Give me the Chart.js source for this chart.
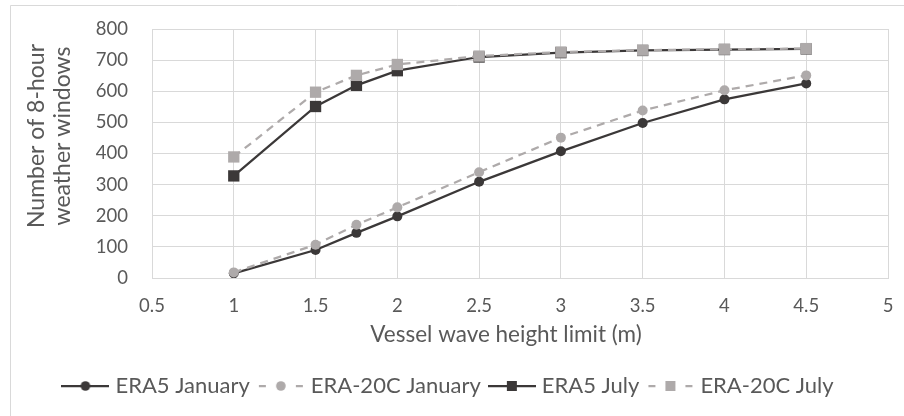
<!DOCTYPE html>
<html>
<head>
<meta charset="utf-8">
<script src="https://cdn.jsdelivr.net/npm/chart.js@4/dist/chart.umd.min.js"></script>
<style>
  html, body { margin: 0; padding: 0; background: #ffffff; }
  #wrap { width: 904px; height: 416px; position: relative; }
</style>
</head>
<body>
<div id="wrap"><canvas id="chart" width="904" height="416"></canvas></div>
<script>
// Vessel wave height limits (m)
const waveLimits = [1, 1.5, 1.75, 2, 2.5, 3, 3.5, 4, 4.5];

// Number of 8-hour weather windows per reanalysis and month
const era5January   = [15, 90, 145, 198, 309, 407, 498, 574, 625];
const era20cJanuary = [18, 107, 171, 227, 340, 451, 538, 603, 651];
const era5July      = [328, 551, 619, 666, 710, 724, 731, 734, 736];
const era20cJuly    = [389, 597, 651, 686, 713, 726, 732, 735, 737];

const seriesNames = ['ERA5 January', 'ERA-20C January', 'ERA5 July', 'ERA-20C July'];

// Axis ranges and tick steps
const xRange = [0.5, 5];
const xStep = 0.5;
const yRange = [0, 800];
const yStep = 100;

const xTitle = 'Vessel wave height limit (m)';
const yTitle = ['Number of 8-hour', 'weather windows'];

const DARK = '#3b3838';
const GREY = '#aeaaaa';
const TEXT = '#595959';
const GRID = '#d9d9d9';
const FONT = 'Lato, "Open Sans", sans-serif';

function toPoints(values) {
  return waveLimits.map((x, i) => ({ x: x, y: values[i] }));
}

// Small line-plus-marker swatch used as the legend symbol
function legendSymbol(color, dashed, marker) {
  const c = document.createElement('canvas');
  c.width = 48; c.height = 14;
  const g = c.getContext('2d');
  g.strokeStyle = color;
  g.fillStyle = color;
  g.lineWidth = 2.25;
  const cy = 7;
  g.beginPath();
  if (dashed) {
    g.moveTo(2, cy); g.lineTo(9, cy);
    g.moveTo(39, cy); g.lineTo(46, cy);
  } else {
    g.moveTo(0, cy); g.lineTo(48, cy);
  }
  g.stroke();
  g.beginPath();
  if (marker === 'circle') {
    g.arc(24, cy, 4.8, 0, Math.PI * 2);
    g.fill();
  } else {
    g.fillRect(19, cy - 5, 10, 10);
  }
  return c;
}

function series(label, values, color, dashed, marker, order) {
  return {
    label: label,
    data: toPoints(values),
    borderColor: color,
    backgroundColor: color,
    borderWidth: 2.25,
    borderDash: dashed ? [8, 6] : [],
    pointStyle: marker === 'circle' ? 'circle' : 'rect',
    pointRadius: marker === 'circle' ? 5 : 8,
    pointBackgroundColor: color,
    pointBorderWidth: 0,
    pointHoverRadius: marker === 'circle' ? 5 : 8,
    tension: 0,
    fill: false,
    order: order,
    legendSymbol: legendSymbol(color, dashed, marker)
  };
}

// White background and light frame along the left and top edges
const framePlugin = {
  id: 'frame',
  beforeDraw(chart) {
    const ctx = chart.ctx;
    ctx.save();
    ctx.fillStyle = '#ffffff';
    ctx.fillRect(0, 0, chart.width, chart.height);
    ctx.strokeStyle = GRID;
    ctx.lineWidth = 1;
    ctx.beginPath();
    ctx.moveTo(10.5, chart.height + 2);
    ctx.lineTo(10.5, 5.5);
    ctx.lineTo(chart.width + 2, 5.5);
    ctx.stroke();
    ctx.restore();
  }
};

// Axis titles: two-line rotated value-axis title and the category-axis title
const axisTitlePlugin = {
  id: 'axisTitles',
  afterDraw(chart) {
    const ctx = chart.ctx;
    ctx.save();
    ctx.fillStyle = TEXT;
    ctx.textAlign = 'center';
    ctx.textBaseline = 'alphabetic';

    ctx.font = '22.5px ' + FONT;
    ctx.fillText(xTitle, 506, 342);

    ctx.font = '23px ' + FONT;
    ctx.translate(44, 136);
    ctx.rotate(-Math.PI / 2);
    ctx.fillText(yTitle[0], 0, 0);
    ctx.fillText(yTitle[1], 0, 26);
    ctx.restore();
  }
};

new Chart(document.getElementById('chart'), {
  type: 'line',
  data: {
    datasets: [
      series(seriesNames[0], era5January, DARK, false, 'circle', 1),
      series(seriesNames[1], era20cJanuary, GREY, true, 'circle', 0),
      series(seriesNames[2], era5July, DARK, false, 'rect', 1),
      series(seriesNames[3], era20cJuly, GREY, true, 'rect', 0)
    ]
  },
  options: {
    responsive: false,
    animation: false,
    devicePixelRatio: 1,
    layout: { padding: { left: 12, right: 16, top: 29, bottom: 9 } },
    plugins: {
      tooltip: { enabled: false },
      legend: {
        position: 'bottom',
        labels: {
          usePointStyle: true,
          pointStyleWidth: 38,
          boxHeight: 14,
          padding: 12,
          color: TEXT,
          font: { family: FONT, size: 22 },
          generateLabels(chart) {
            return chart.data.datasets.map((ds, i) => ({
              text: ds.label,
              pointStyle: ds.legendSymbol,
              fillStyle: ds.borderColor,
              strokeStyle: ds.borderColor,
              lineWidth: 0,
              fontColor: TEXT,
              hidden: false,
              datasetIndex: i
            }));
          }
        }
      }
    },
    scales: {
      x: {
        type: 'linear',
        min: xRange[0],
        max: xRange[1],
        ticks: {
          stepSize: xStep,
          color: TEXT,
          padding: 17,
          font: { family: FONT, size: 18.5 },
          callback: (value) => String(value)
        },
        grid: { color: GRID, lineWidth: 1, drawTicks: false },
        border: { color: GRID, width: 1 },
        title: { display: false },
        afterFit(scale) {
          scale.height = 85;
          scale.paddingLeft = 0;
          scale.paddingRight = 0;
        }
      },
      y: {
        min: yRange[0],
        max: yRange[1],
        ticks: {
          stepSize: yStep,
          color: TEXT,
          padding: 24,
          font: { family: FONT, size: 18.5 }
        },
        grid: { color: GRID, lineWidth: 1, drawTicks: false },
        border: { display: false },
        title: { display: false },
        afterFit(scale) {
          scale.width = 140;
          scale.paddingTop = 0;
          scale.paddingBottom = 0;
        }
      }
    }
  },
  plugins: [framePlugin, axisTitlePlugin]
});
</script>
</body>
</html>
